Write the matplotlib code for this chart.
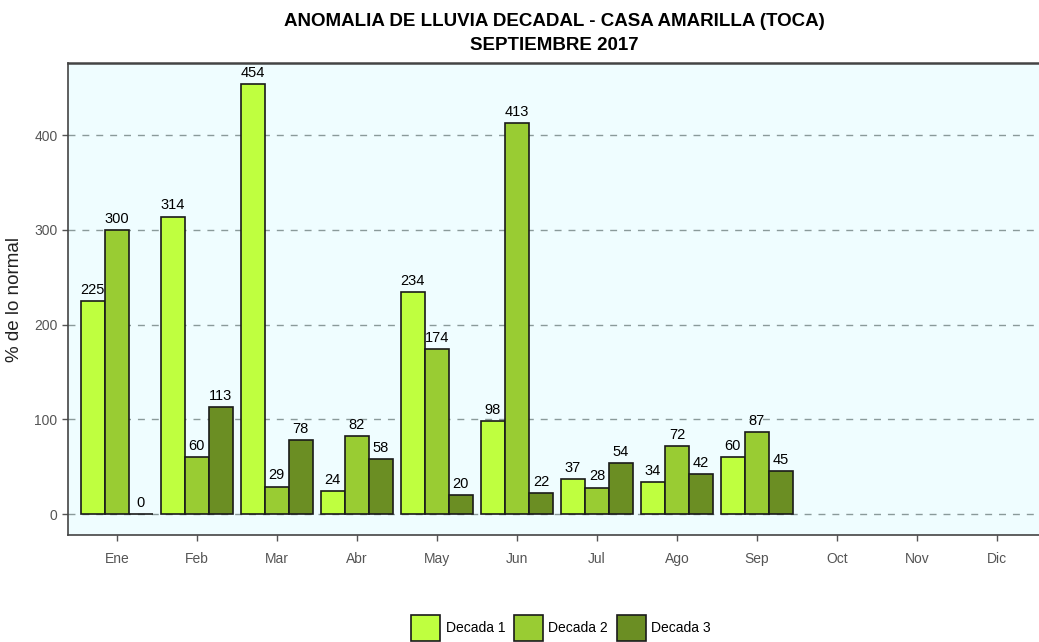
import matplotlib.pyplot as plt
import numpy as np

plt.rcParams['font.family'] = ['Liberation Sans', 'DejaVu Sans']

months = ['Ene', 'Feb', 'Mar', 'Abr', 'May', 'Jun', 'Jul', 'Ago', 'Sep', 'Oct', 'Nov', 'Dic']
decada_1 = [225, 314, 454, 24, 234, 98, 37, 34, 60]
decada_2 = [300, 60, 29, 82, 174, 413, 28, 72, 87]
decada_3 = [0, 113, 78, 58, 20, 22, 54, 42, 45]
series_names = ['Decada 1', 'Decada 2', 'Decada 3']
colors = ['#BFFF3F', '#99CC33', '#6B8E23']

fig = plt.figure(figsize=(10.39, 6.42), dpi=100)
ax = fig.add_axes([68/1039, 107/642, 971/1039, 472/642])
ax.set_facecolor('#EFFDFF')

x = np.arange(len(decada_1))
w = 0.3
for i, (vals, name, c) in enumerate(zip([decada_1, decada_2, decada_3], series_names, colors)):
    bars = ax.bar(x + (i - 1) * w, vals, width=w, color=c, edgecolor='#1a1a1a',
                  linewidth=1.2, label=name, zorder=3)
    ax.bar_label(bars, padding=3, fontsize=10.5, color='black')

ax.set_xlim(-0.61, 11.525)
ax.set_ylim(-22, 476)
ax.set_xticks(np.arange(len(months)), months)
ax.set_yticks([0, 100, 200, 300, 400])
ax.yaxis.grid(True, linestyle=(0, (5, 5)), color='#8a9a9a', linewidth=1, zorder=1)
ax.tick_params(axis='both', labelsize=10, labelcolor='#555555', color='#555555',
               length=4, width=1)
ax.tick_params(axis='x', pad=8)

for s in ['left', 'bottom', 'top']:
    ax.spines[s].set_color('#444444')
ax.spines['top'].set_linewidth(1.8)
ax.spines['left'].set_linewidth(1.2)
ax.spines['bottom'].set_linewidth(1.2)
ax.spines['right'].set_visible(False)

ax.set_ylabel('% de lo normal', fontsize=13.5, color='#222222')
ax.yaxis.set_label_coords(-0.046, 0.5)

fig.text(554/1039, 1 - 21/642, 'ANOMALIA DE LLUVIA DECADAL - CASA AMARILLA (TOCA)',
         ha='center', va='center', fontsize=13.5, fontweight='bold')
fig.text(554/1039, 1 - 45/642, 'SEPTIEMBRE 2017',
         ha='center', va='center', fontsize=13.5, fontweight='bold')

fig.legend(loc='center', bbox_to_anchor=(561/1039, 14/642), ncol=3, frameon=False,
           fontsize=10, handlelength=2.1, handleheight=2.4, handletextpad=0.4,
           columnspacing=0.6)

fig.savefig('out.png', dpi=100)
